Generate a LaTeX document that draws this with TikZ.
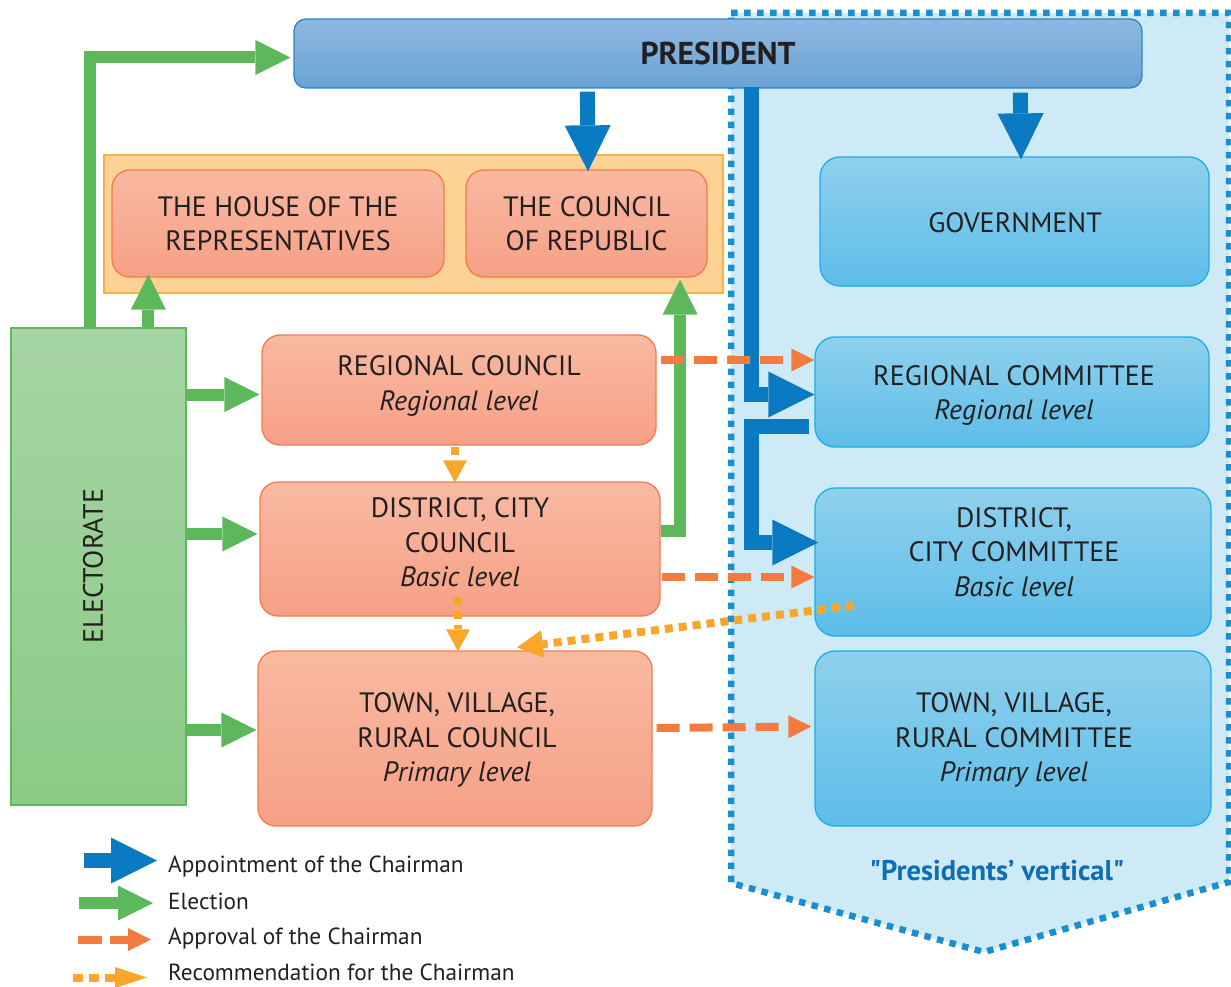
\documentclass[tikz,border=0pt]{standalone}
\usepackage{fontspec}
\setmainfont{PT Sans}
\usetikzlibrary{arrows.meta,calc}
\definecolor{tx}{HTML}{231F20}
\definecolor{colBlue}{HTML}{0A7BC2}
\definecolor{colGreen}{HTML}{5CB85A}
\definecolor{colOrange}{HTML}{F47B3F}
\definecolor{colYellow}{HTML}{F9A72B}
\definecolor{regFill}{HTML}{CDEAF6}
\definecolor{regDot}{HTML}{1A8FD0}
\definecolor{pTop}{HTML}{8FB8E1}
\definecolor{pBot}{HTML}{6AA3D4}
\definecolor{pBor}{HTML}{2A86C9}
\definecolor{bTop}{HTML}{8FD0ED}
\definecolor{bBot}{HTML}{5DBDE8}
\definecolor{bBor}{HTML}{1CAEE5}
\definecolor{cTop}{HTML}{F9B9A2}
\definecolor{cBot}{HTML}{F6A086}
\definecolor{cBor}{HTML}{F47B4A}
\definecolor{kFill}{HTML}{FDD294}
\definecolor{kBor}{HTML}{F8B143}
\definecolor{eTop}{HTML}{A6D5A3}
\definecolor{eBot}{HTML}{8BCA87}
\definecolor{eBor}{HTML}{5DB95C}
\definecolor{pvText}{HTML}{0E6DB5}
\newcommand\bxf{\fontsize{28}{34.5}\selectfont}
\newcommand\lgf{\fontsize{23.3}{26}\selectfont}
\begin{document}
\begin{tikzpicture}[x=1pt,y=-1pt,
  txtnode/.style={text=tx,inner sep=0pt,align=center,font=\bxf},
  cbox/.style={draw=cBor,line width=1.3pt,top color=cTop,bottom color=cBot,rounded corners=18pt,inner sep=0pt},
  bbox/.style={draw=bBor,line width=1.3pt,top color=bTop,bottom color=bBot,rounded corners=20pt,inner sep=0pt},
  legtext/.style={text=tx,inner sep=0pt,font=\lgf,anchor=base west},
  barrow/.style={draw=colBlue,line width=15pt,line join=miter,-{Triangle[length=46pt,width=46pt,line width=0pt]}},
  garrow/.style={draw=colGreen,line width=12pt,line join=miter,-{Triangle[length=35pt,width=35pt,line width=0pt]}},
  oarrow/.style={draw=colOrange,line width=8pt,dash pattern=on 23pt off 10pt,-{Triangle[length=23pt,width=23pt,line width=0pt]}},
  yarrow/.style={draw=colYellow,line width=8pt,dash pattern=on 8pt off 6pt,-{Triangle[length=22pt,width=24pt,line width=0pt]}}
]
\useasboundingbox (0,0) rectangle (1231,987);
% presidents' vertical region
\fill[regFill] (731,13) -- (1229,13) -- (1229,882) -- (984,952) -- (731,883) -- cycle;
\draw[regDot,line width=6.5pt,dash pattern=on 6.5pt off 6.5pt] (731,13) -- (1229,13) -- (1229,882) -- (984,952) -- (731,883) -- cycle;
\node[text=pvText,font=\fontsize{28.5}{30}\selectfont\bfseries\addfontfeatures{Ligatures=TeXOff},inner sep=0pt] (pvlabel) at (997,871) {"Presidents’ vertical"};
% container
\node[draw=kBor,fill=kFill,line width=1.3pt,minimum width=619pt,minimum height=138pt,inner sep=0pt] (cont) at (413.5,224) {};
\node[cbox,minimum width=332pt,minimum height=107pt] (house) at (278,223.5) {};
\node[txtnode] (houset) at (278,223.5) {THE HOUSE OF THE\\REPRESENTATIVES};
\node[cbox,minimum width=241pt,minimum height=107pt] (council) at (586.5,223.5) {};
\node[txtnode] (councilt) at (586.5,223.5) {THE COUNCIL\\OF REPUBLIC};
% president
\node[draw=pBor,line width=1.3pt,top color=pTop,bottom color=pBot,rounded corners=12pt,minimum width=848pt,minimum height=69pt,inner sep=0pt,font=\fontsize{31.6}{34}\selectfont\bfseries,text=tx] (pres) at (718,53.5) {PRESIDENT};
% blue boxes
\node[bbox,minimum width=389pt,minimum height=129pt] (gov) at (1014.5,221.5) {};
\node[txtnode] (govt) at (1015,222.5) {GOVERNMENT};
\node[bbox,minimum width=394pt,minimum height=110pt] (regcom) at (1012,392) {};
\node[txtnode] (regcomt) at (1014,395.5) {REGIONAL COMMITTEE\\\textit{Regional level}};
\node[bbox,minimum width=396pt,minimum height=148pt] (distcom) at (1013,562) {};
\node[txtnode] (distcomt) at (1014,552) {DISTRICT,\\CITY COMMITTEE\\\textit{Basic level}};
\node[bbox,minimum width=396pt,minimum height=175pt] (towncom) at (1013,738.5) {};
\node[txtnode] (towncomt) at (1014,740) {TOWN, VILLAGE,\\RURAL COMMITTEE\\\textit{Primary level}};
% councils
\node[cbox,minimum width=394pt,minimum height=110pt] (regcoun) at (459,390) {};
\node[txtnode] (regcount) at (459,386) {REGIONAL COUNCIL\\\textit{Regional level}};
\node[cbox,minimum width=400pt,minimum height=134pt] (distcoun) at (460,549) {};
\node[txtnode] (distcount) at (460,542.5) {DISTRICT, CITY\\COUNCIL\\\textit{Basic level}};
\node[cbox,minimum width=394pt,minimum height=175pt] (towncoun) at (455,738.5) {};
\node[txtnode] (towncount) at (457,740) {TOWN, VILLAGE,\\RURAL COUNCIL\\\textit{Primary level}};
% electorate
\node[draw=eBor,line width=1.3pt,top color=eTop,bottom color=eBot,minimum width=175pt,minimum height=477pt,inner sep=0pt] (elec) at (98.5,566.5) {};
\node[txtnode,rotate=90] (electext) at (93,566) {ELECTORATE};
% green arrows
\draw[garrow] ($(elec.north west)+(80,0)$) |- ($(pres.west)+(-3,4)$);
\draw[garrow] ($(elec.north west)+(138,0)$) -- ($(house.south west)+(37,-3)$);
\draw[garrow] ($(elec.east)+(0,-172)$) -- ($(regcoun.west)+(-2,4.5)$);
\draw[garrow] ($(elec.east)+(0,-32.5)$) -- ($(distcoun.west)+(-2,-15)$);
\draw[garrow] ($(elec.east)+(0,163.5)$) -- ($(towncoun.west)+(-1,-8.5)$);
\draw[garrow] ($(distcoun.east)+(0,-18.5)$) -| ($(council.south east)+(-27.5,2)$);
% blue arrows
\draw[barrow] ($(pres.south west)+(294,3)$) -- ($(council.north)+(1.5,2)$);
\draw[barrow] ($(pres.south west)+(727,4)$) -- ($(gov.north)+(6.5,3)$);
\draw[barrow] ($(pres.south west)+(458.5,-2)$) |- ($(regcom.west)+(0,2.5)$);
\draw[barrow] ($(regcom.west)+(-5,34)$) -- ($(regcom.west)+(-62.5,34)$) |- ($(distcom.west)+(4,-19.5)$);
% orange dashed arrows
\draw[oarrow] ($(regcoun.east)+(4,-30)$) -- ($(regcom.west)+(0,-32)$);
\draw[oarrow] ($(distcoun.east)+(1,28)$) -- ($(distcom.west)+(0,15)$);
\draw[oarrow] ($(towncoun.east)+(4,-10.5)$) -- ($(towncom.west)+(-3,-12)$);
% yellow dotted arrows
\draw[yarrow] ($(regcoun.south)+(-4,1)$) -- ($(distcoun.north)+(-5,1)$);
\draw[yarrow] ($(distcoun.south)+(-2,-20)$) -- ($(towncoun.north)+(3,1)$);
\draw[yarrow,-{Triangle[length=26pt,width=28pt,line width=0pt]}] ($(distcom.south west)+(39,-31)$) -- ($(towncoun.north)+(62,-3)$);
% legend
\coordinate (la1) at (84,860.5); \coordinate (lb1) at (157,860.5);
\coordinate (la2) at (79,903);   \coordinate (lb2) at (153,903);
\coordinate (la3) at (78,939.5); \coordinate (lb3) at (151,939.5);
\coordinate (la4) at (73,977.5); \coordinate (lb4) at (147,977.5);
\draw[barrow] (la1) -- (lb1);
\draw[garrow] (la2) -- (lb2);
\draw[oarrow,dash pattern=on 24pt off 8pt] (la3) -- (lb3);
\draw[yarrow,dash pattern=on 10pt off 6pt,-{Triangle[length=32pt,width=21pt,line width=0pt]}] (la4) -- (lb4);
\node[legtext] (lt1) at (168,872) {Appointment of the Chairman};
\node[legtext] (lt2) at (168,909) {Election};
\node[legtext] (lt3) at (168,944) {Approval of the Chairman};
\node[legtext] (lt4) at (168,980) {Recommendation for the Chairman};
\end{tikzpicture}
\end{document}
